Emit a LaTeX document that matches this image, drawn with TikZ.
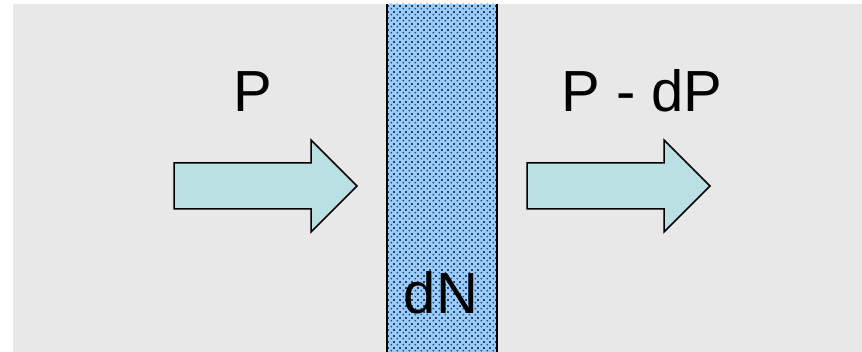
\documentclass[tikz,border=0pt]{standalone}
\usepackage{fontspec}
\setmainfont{Liberation Sans}
\usetikzlibrary{patterns}
\definecolor{bggray}{HTML}{E8E8E8}
\definecolor{slabblue}{HTML}{99CCFF}
\definecolor{dotcol}{HTML}{2E3F55}
\definecolor{arrowfill}{HTML}{BBE0E3}
\pgfdeclarepatternformonly{slabdots}{\pgfpointorigin}{\pgfpoint{6pt}{6pt}}{\pgfpoint{6pt}{6pt}}{%
  \pgfpathrectangle{\pgfpoint{0.6pt}{0.6pt}}{\pgfpoint{2pt}{2pt}}%
  \pgfpathrectangle{\pgfpoint{3.6pt}{3.6pt}}{\pgfpoint{2pt}{2pt}}%
  \pgfusepath{fill}}
\tikzset{
  fatarrow/.style={draw=black, line width=1.5pt, fill=arrowfill, line join=miter},
  bigtext/.style={font=\fontsize{58}{66}\selectfont, inner sep=0pt},
}
\begin{document}
\begin{tikzpicture}[x=1pt,y=-1pt]
\useasboundingbox (0,0) rectangle (862,352);
\fill[white] (0,0) rectangle (862,352);
\fill[bggray] (13,4) rectangle (862,352);
% slab
\fill[slabblue] (387,4) rectangle (497,352);
\fill[pattern=slabdots, pattern color=dotcol] (387,4) rectangle (497,352);
\draw[line width=2pt] (387,4) -- (387,352);
\draw[line width=2pt] (497,4) -- (497,352);
% arrows
\draw[fatarrow] (174,163) -- (311,163) -- (311,140) -- (357,186) -- (311,232) -- (311,209) -- (174,209) -- cycle;
\draw[fatarrow] (527,163) -- (664,163) -- (664,140) -- (710,186) -- (664,232) -- (664,209) -- (527,209) -- cycle;
% labels
\node[bigtext, anchor=base] (pin) at (253,112) {P};
\node[bigtext, anchor=base] (pout) at (642,112) {P - dP};
\node[bigtext, anchor=base] (dn) at (441,314) {dN};
\end{tikzpicture}
\end{document}
